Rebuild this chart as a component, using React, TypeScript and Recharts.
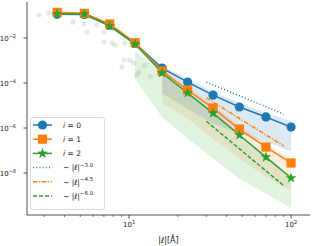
import React from 'react'
import { ComposedChart, Line, Area, Scatter, XAxis, YAxis } from 'recharts'

const BLUE = '#1f77b4'
const ORANGE = '#ff7f0e'
const GREEN = '#2ca02c'

// |l| sample points
const xs = [3.6, 5.3, 7.6, 10.9, 16, 23, 33, 48, 70, 100]
const i0 = [0.115, 0.112, 0.037, 0.0058, 4.6e-4, 1.1e-4, 2.9e-5, 8.6e-6, 3.1e-6, 1.1e-6]
const i1 = [0.139, 0.125, 0.042, 0.0062, 3.4e-4, 4.9e-5, 7.7e-6, 9e-7, 1.43e-7, 2.8e-8]
const i2 = [0.117, 0.117, 0.034, 0.0054, 2.8e-4, 3.6e-5, 4.6e-6, 4.9e-7, 5.1e-8, 6e-9]

// spread of the individual samples
const lo0 = [null, null, null, null, 3.5e-5, 7e-6, 1.6e-6, 5.5e-7, 2.4e-7, 9e-8]
const hi0 = [null, null, null, null, 6e-4, 1.5e-4, 4.2e-5, 1.3e-5, 4.8e-6, 2.0e-6]
const lo1 = [null, null, null, null, 1.3e-5, 2.6e-6, 3.3e-7, 4.2e-8, 7e-9, 1.6e-9]
const hi1 = [null, null, null, null, 4.2e-4, 6.6e-5, 1.1e-5, 1.3e-6, 2.1e-7, 4.2e-8]
const lo2 = [null, null, null, 1.5e-4, 3e-6, 3.4e-7, 4.4e-8, 5.5e-9, 1.2e-9, 2.8e-10]
const hi2 = [null, null, null, 2.5e-3, 2.8e-4, 3.6e-5, 4.6e-6, 5.2e-7, 5.5e-8, 7e-9]

// power-law guides
const refXs = [30, 90]
const ref0 = [1.1e-4, 4.2e-6]
const ref1 = [2.2e-5, 1.6e-7]
const ref2 = [2.0e-6, 2.75e-9]

// faint sample points at small |l|
const cloudX = [2.78, 3.2, 4.5, 5.3, 5.5, 6.3, 7.0, 7.0, 7.85, 8.2, 9.4, 9.3, 10.1, 10.7, 11.5, 9.05, 11.2, 12.5, 13.5]
const cloudY = [0.105, 0.13, 0.051, 0.042, 0.0185, 0.038, 0.0185, 0.0066, 0.006, 0.0049, 0.006, 0.00105, 0.00105, 7.8e-4, 3.1e-4, 5.1e-4, 2.3e-4, 6e-4, 2e-4]

const yTicks = [1e-2, 1e-4, 1e-6, 1e-8]
const xMajor = [10, 100]
const xTicks = [3, 4, 5, 6, 7, 8, 9, 10, 20, 30, 40, 50, 60, 70, 80, 90, 100]

const allX = [...xs, ...refXs].sort((a, b) => a - b)
const table = allX.map((x) => {
  const k = xs.indexOf(x)
  const r = refXs.indexOf(x)
  const row: any = { x }
  if (k >= 0) {
    row.i0 = i0[k]
    row.i1 = i1[k]
    row.i2 = i2[k]
    if (lo0[k] != null) row.b0 = [lo0[k], hi0[k]]
    if (lo1[k] != null) row.b1 = [lo1[k], hi1[k]]
    if (lo2[k] != null) row.b2 = [lo2[k], hi2[k]]
  }
  if (r >= 0) {
    row.r0 = ref0[r]
    row.r1 = ref1[r]
    row.r2 = ref2[r]
  }
  return row
})
const cloud = cloudX.map((x, k) => ({ x, y: cloudY[k] }))

const FONT = 'DejaVu Sans'

function Circle({ cx, cy }: any) {
  if (cx == null || cy == null) return null
  return <circle cx={cx} cy={cy} r={4.6} fill={BLUE} />
}
function Square({ cx, cy }: any) {
  if (cx == null || cy == null) return null
  return <rect x={cx - 4.6} y={cy - 4.6} width={9.2} height={9.2} fill={ORANGE} />
}
function starPoints(cx: number, cy: number, ro: number, ri: number) {
  const pts = []
  for (let k = 0; k < 10; k++) {
    const a = -Math.PI / 2 + (k * Math.PI) / 5
    const rr = k % 2 === 0 ? ro : ri
    pts.push(`${cx + rr * Math.cos(a)},${cy + rr * Math.sin(a)}`)
  }
  return pts.join(' ')
}
function Star({ cx, cy }: any) {
  if (cx == null || cy == null) return null
  return <polygon points={starPoints(cx, cy, 5.6, 2.3)} fill={GREEN} />
}
function Dot({ cx, cy }: any) {
  return <circle cx={cx} cy={cy} r={2.6} fill="#8aa080" fillOpacity={0.22} />
}

function YTick({ x, y, payload }: any) {
  const e = Math.round(Math.log10(payload.value))
  return (
    <g>
      <line x1={x - 3.5} x2={x} y1={y} y2={y} stroke="#222" strokeWidth={0.8} />
      <text x={x - 11} y={y + 2.5} textAnchor="end" fontFamily={FONT} fontSize={7} fill="#222">
        10<tspan dy={-3} fontSize={5}>{'\u2212' + Math.abs(e)}</tspan>
      </text>
    </g>
  )
}

function XTick({ x, y, payload }: any) {
  const major = xMajor.includes(payload.value)
  const e = Math.round(Math.log10(payload.value))
  return (
    <g>
      <line x1={x} x2={x} y1={y} y2={y + (major ? 3.5 : 2)} stroke="#222" strokeWidth={major ? 0.8 : 0.6} />
      {major && (
        <text x={x} y={y + 12} textAnchor="middle" fontFamily={FONT} fontSize={7} fill="#222">
          10<tspan dy={-3} fontSize={5}>{e}</tspan>
        </text>
      )}
    </g>
  )
}

function LegendBox() {
  const rows = [
    { label: '0', color: BLUE, mark: 'c', dash: undefined, pow: '' },
    { label: '1', color: ORANGE, mark: 's', dash: undefined, pow: '' },
    { label: '2', color: GREEN, mark: 't', dash: undefined, pow: '' },
    { label: '', color: BLUE, mark: '', dash: '1 2.2', pow: '3.0' },
    { label: '', color: ORANGE, mark: '', dash: '4.5 1.6 1.2 1.6', pow: '4.5' },
    { label: '', color: GREEN, mark: '', dash: '4 2', pow: '6.0' },
  ]
  return (
    <svg width={75} height={94} style={{ display: 'block' }}>
      <rect x={0.5} y={0.5} width={74} height={92} rx={2} fill="#fff" fillOpacity={0.8} stroke="#d0d0d0" strokeWidth={0.8} />
      {rows.map((r, k) => {
        const cy = 8 + k * 14.2
        return (
          <g key={k}>
            <line x1={3} x2={22} y1={cy} y2={cy} stroke={r.color} strokeWidth={1.5} strokeDasharray={r.dash} />
            {r.mark === 'c' && <circle cx={12.5} cy={cy} r={4.6} fill={BLUE} />}
            {r.mark === 's' && <rect x={7.9} y={cy - 4.6} width={9.2} height={9.2} fill={ORANGE} />}
            {r.mark === 't' && <polygon points={starPoints(12.5, cy, 5.6, 2.3)} fill={GREEN} />}
            {r.label ? (
              <text x={33} y={cy + 2.8} fontFamily={FONT} fontSize={7.5} fill="#222">
                <tspan fontStyle="italic">i</tspan> = {r.label}
              </text>
            ) : (
              <text x={33} y={cy + 2.8} fontFamily={FONT} fontSize={7.5} fill="#222">
                {'\u223c |'}<tspan fontStyle="italic">{'\u2113'}</tspan>|
                <tspan dy={-3.5} fontSize={5.5}>{'\u2212' + r.pow}</tspan>
              </text>
            )}
          </g>
        )
      })}
    </svg>
  )
}

export default function App() {
  return (
    <div style={{ position: 'fixed', left: 0, top: 0, width: 313, height: 246, background: '#fff' }}>
      <ComposedChart width={313} height={246} data={table} margin={{ top: 2, right: 3, bottom: 0, left: 0 }}>
        <XAxis
          dataKey="x"
          type="number"
          scale="log"
          domain={[2.346, 130.9]}
          allowDataOverflow
          ticks={xTicks}
          tick={<XTick />}
          tickLine={false}
          tickSize={0}
          tickMargin={0}
          height={31}
          axisLine={{ stroke: '#222', strokeWidth: 0.8 }}
          interval={0}
          label={{ value: '|\u2113|[\u00c5]', position: 'insideBottom', offset: 3, fontFamily: FONT, fontSize: 8, fill: '#222' }}
        />
        <XAxis xAxisId="top" orientation="top" type="number" scale="log" domain={[2.346, 130.9]} height={0} tick={false} tickLine={false} axisLine={{ stroke: '#222', strokeWidth: 0.8 }} />
        <YAxis
          type="number"
          scale="log"
          domain={[1.36e-10, 0.4]}
          allowDataOverflow
          ticks={yTicks}
          tick={<YTick />}
          tickLine={false}
          tickSize={0}
          tickMargin={0}
          width={27}
          interval={0}
          axisLine={{ stroke: '#222', strokeWidth: 0.8 }}
        />
        <YAxis yAxisId="right" orientation="right" type="number" scale="log" domain={[1.36e-10, 0.4]} width={0} tick={false} tickLine={false} axisLine={{ stroke: '#222', strokeWidth: 0.8 }} />
        <Area dataKey="b0" type="linear" stroke="none" fill={BLUE} fillOpacity={0.16} connectNulls isAnimationActive={false} />
        <Area dataKey="b1" type="linear" stroke="none" fill={ORANGE} fillOpacity={0.13} connectNulls isAnimationActive={false} />
        <Area dataKey="b2" type="linear" stroke="none" fill={GREEN} fillOpacity={0.14} connectNulls isAnimationActive={false} />
        <Scatter data={cloud} dataKey="y" shape={<Dot />} isAnimationActive={false} />
        <Line dataKey="r0" stroke={BLUE} strokeWidth={1.5} strokeDasharray="1 2.2" dot={false} connectNulls isAnimationActive={false} />
        <Line dataKey="r1" stroke={ORANGE} strokeWidth={1.5} strokeDasharray="4.5 1.6 1.2 1.6" dot={false} connectNulls isAnimationActive={false} />
        <Line dataKey="r2" stroke={GREEN} strokeWidth={1.5} strokeDasharray="4 2" dot={false} connectNulls isAnimationActive={false} />
        <Line dataKey="i0" stroke={BLUE} strokeWidth={1.5} dot={<Circle />} connectNulls isAnimationActive={false} />
        <Line dataKey="i1" stroke={ORANGE} strokeWidth={1.5} dot={<Square />} connectNulls isAnimationActive={false} />
        <Line dataKey="i2" stroke={GREEN} strokeWidth={1.5} dot={<Star />} connectNulls isAnimationActive={false} />
      </ComposedChart>
      <div style={{ position: 'absolute', left: 30, top: 117 }}>
        <LegendBox />
      </div>
    </div>
  )
}
